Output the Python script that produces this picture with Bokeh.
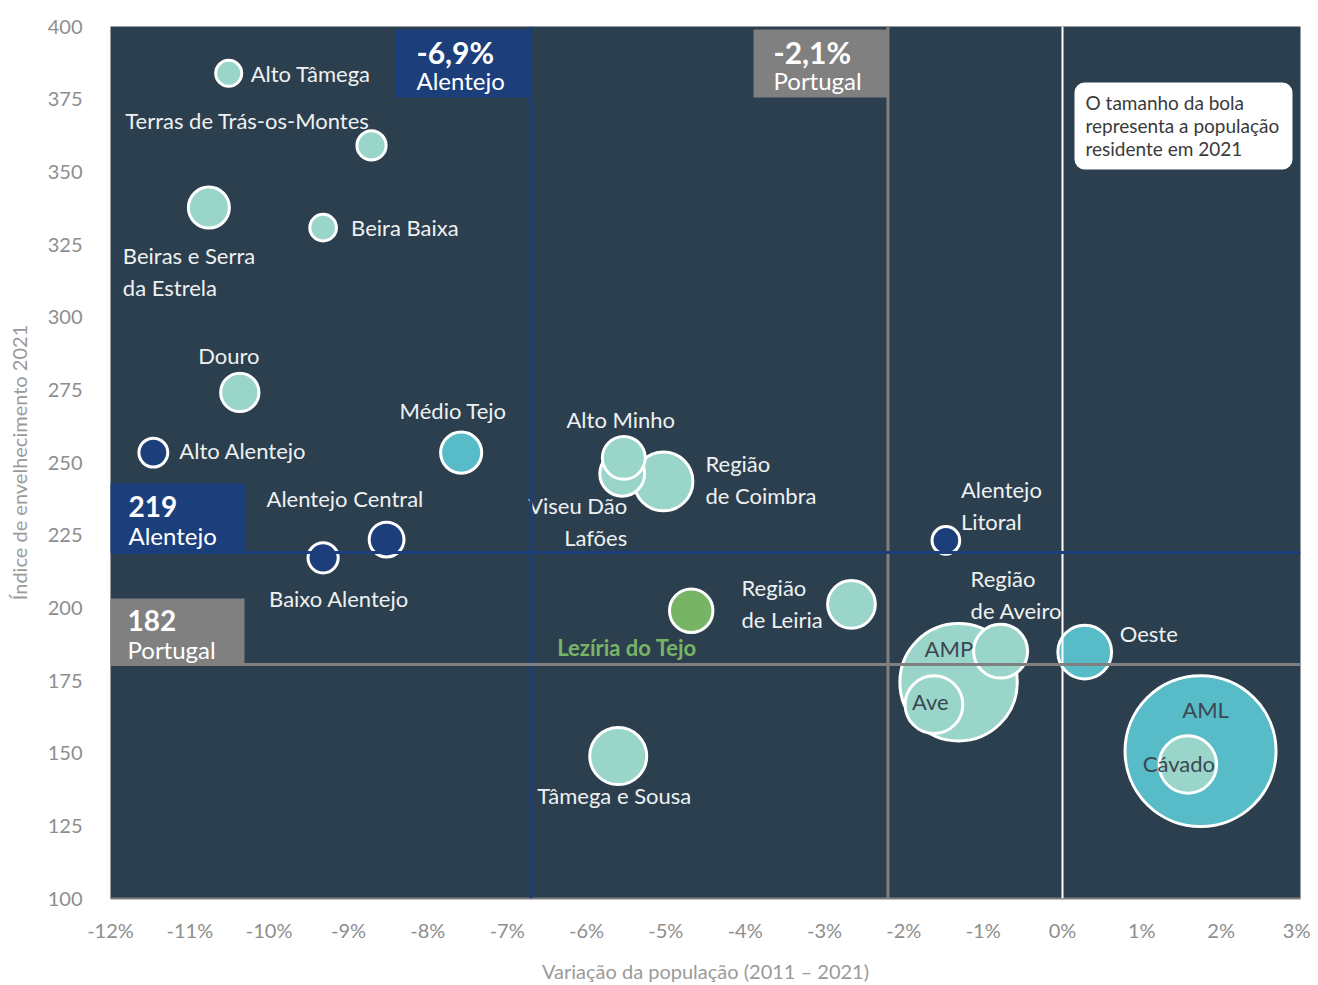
import math
from bokeh.plotting import figure
from bokeh.models import Span, BoxAnnotation, Label, FixedTicker, CustomJSTickFormatter
from bokeh.embed import file_html
from bokeh.resources import INLINE
from bokeh.core.properties import value

# ---------------- data ----------------
regions = ["Alto Tâmega", "Terras de Trás-os-Montes", "Beiras e Serra da Estrela", "Beira Baixa",
           "Douro", "Alto Alentejo", "Médio Tejo", "Alentejo Central", "Baixo Alentejo",
           "Alto Minho", "Viseu Dão Lafões", "Região de Coimbra", "Lezíria do Tejo",
           "Região de Leiria", "Tâmega e Sousa", "Alentejo Litoral", "AMP", "Região de Aveiro",
           "Ave", "Oeste", "AML", "Cávado"]
var_pop = [-10.51, -8.71, -10.76, -9.32, -10.37, -11.46, -7.58, -8.52, -9.32,
           -5.53, -5.55, -5.03, -4.68, -2.66, -5.60, -1.47, -1.31, -0.78,
           -1.62, 0.28, 1.74, 1.58]
ind_env = [383.9, 359.1, 337.7, 330.8, 274.1, 253.4, 253.4, 223.5, 217.2,
           251.6, 246.1, 243.5, 199.0, 201.2, 149.0, 223.2, 174.4, 185.1,
           166.7, 184.8, 150.7, 146.1]
pop_2021 = [85.4, 107.2, 211.8, 89.1, 184.6, 104.9, 213.0, 152.4, 114.9,
            231.5, 253.1, 436.9, 237.5, 286.7, 408.6, 96.4, 1736.2, 367.4,
            418.5, 363.5, 2870.2, 416.6]
group = ["norte_centro", "norte_centro", "norte_centro", "norte_centro", "norte_centro",
         "alentejo", "teal", "alentejo", "alentejo", "norte_centro", "norte_centro",
         "norte_centro", "leziria", "norte_centro", "norte_centro", "alentejo",
         "norte_centro", "norte_centro", "norte_centro", "teal", "teal", "norte_centro"]

x_ticks = list(range(-12, 4))
y_ticks = list(range(100, 401, 25))

# reference values (labels) and where their lines are drawn in the picture
ref_alentejo_var_label, ref_alentejo_var_line = "-6,9%", -6.7
ref_portugal_var_label, ref_portugal_var_line = "-2,1%", -2.2
ref_alentejo_ind_label, ref_alentejo_ind_line = "219", 219.0
ref_portugal_ind_label, ref_portugal_ind_line = "182", 180.5

# ---------------- styles ----------------
BG = "#2c3f4e"
COLORS = {"norte_centro": "#9ad5ca", "teal": "#58bbc8", "alentejo": "#1c3f7c", "leziria": "#77b466"}
NAVY = "#1c3f7c"
GREY = "#808080"
LABEL_WHITE = "#eef1f2"
LABEL_DARK = "#3b4752"
FONT = "Lato"

X0, X1 = -12, 3
Y0, Y1 = 100, 400
FW, FH = 1190, 872
PL, PT = 110, 26  # frame position on page


def px2x(px):
    return X0 + (px - PL) / FW * (X1 - X0)


def px2y(py):
    return Y1 - (py - PT) / FH * (Y1 - Y0)


SX = (X1 - X0) / FW
SY = (Y1 - Y0) / FH

p = figure(frame_width=FW, frame_height=FH, x_range=(X0, X1), y_range=(Y0, Y1),
           output_backend="svg", toolbar_location=None,
           min_border_left=PL, min_border_top=PT, min_border_right=10, min_border_bottom=75)
p.background_fill_color = BG
p.border_fill_color = "white"
p.outline_line_color = None
p.grid.visible = False

# axes
p.xaxis.ticker = FixedTicker(ticks=x_ticks)
p.xaxis.formatter = CustomJSTickFormatter(code="return tick + '%';")
p.yaxis.ticker = FixedTicker(ticks=y_ticks)
for ax in (p.xaxis, p.yaxis):
    ax.major_tick_line_color = None
    ax.minor_tick_line_color = None
    ax.major_label_text_font = FONT
    ax.major_label_text_font_size = "20px"
    ax.major_label_text_color = "#8e8e8e"
    ax.axis_label_text_font = FONT
    ax.axis_label_text_font_size = "20px"
    ax.axis_label_text_color = "#9a9a9a"
    ax.axis_label_text_font_style = "normal"
p.xaxis.axis_line_color = "#7f7f7f"
p.xaxis.axis_line_width = 2
p.yaxis.axis_line_color = None
p.xaxis.axis_label = "Variação da população (2011 – 2021)"
p.yaxis.axis_label = "Índice de envelhecimento 2021"
p.xaxis.major_label_standoff = 13
p.xaxis.axis_label_standoff = 14
p.yaxis.major_label_standoff = 22
p.yaxis.axis_label_standoff = 14

# bubbles, largest first
K = 151 / math.sqrt(max(pop_2021))
order = sorted(range(len(regions)), key=lambda i: -pop_2021[i])
p.scatter(x=[var_pop[i] for i in order], y=[ind_env[i] for i in order],
          size=[K * math.sqrt(pop_2021[i]) for i in order],
          fill_color=[COLORS[group[i]] for i in order],
          line_color="white", line_width=3, marker="circle")

# reference lines
p.add_layout(Span(location=ref_alentejo_var_line, dimension="height", line_color=NAVY, line_width=3))
p.add_layout(Span(location=ref_portugal_var_line, dimension="height", line_color=GREY, line_width=3))
p.add_layout(Span(location=0, dimension="height", line_color="white", line_width=2))
p.add_layout(Span(location=ref_alentejo_ind_line, dimension="width", line_color=NAVY, line_width=3))
p.add_layout(Span(location=ref_portugal_ind_line, dimension="width", line_color=GREY, line_width=3))

# reference boxes
def ref_box(left_px, right_px, top_px, bottom_px, color, big, small, tx_px, ty_px, big_size):
    p.add_layout(BoxAnnotation(left=px2x(left_px), right=px2x(right_px), top=px2y(top_px),
                               bottom=px2y(bottom_px), fill_color=color, fill_alpha=1,
                               line_color=None))
    p.add_layout(Label(x=px2x(tx_px), y=px2y(ty_px), text=big, text_baseline="middle",
                       text_font=FONT, text_font_size=big_size, text_font_style="bold",
                       text_color="white"))
    p.add_layout(Label(x=px2x(tx_px), y=px2y(ty_px + 29), text=small, text_baseline="middle",
                       text_font=FONT, text_font_size="24px", text_color="white"))


ref_box(395, 531, 29, 97, NAVY, ref_alentejo_var_label, "Alentejo", 416, 51, "30px")
ref_box(753, 888, 29, 97, GREY, ref_portugal_var_label, "Portugal", 773, 51, "30px")
ref_box(107, 245, 483, 551, NAVY, ref_alentejo_ind_label, "Alentejo", 128, 506, "28px")
ref_box(107, 244, 598, 664, GREY, ref_portugal_ind_label, "Portugal", 127, 620, "28px")

# note box
p.add_layout(BoxAnnotation(left=px2x(1074), right=px2x(1292), top=px2y(82), bottom=px2y(169),
                           fill_color="white", fill_alpha=1, line_color=None, border_radius=10))
for i, line in enumerate(["O tamanho da bola", "representa a população", "residente em 2021"]):
    p.add_layout(Label(x=px2x(1085), y=px2y(102 + 23 * i), text=line, text_baseline="middle",
                       text_font=FONT, text_font_size="19px", text_color="#3a3a3a"))

# bubble labels: (lines, dx px, dy px (down), align, color, style)
label_spec = {
    "Alto Tâmega": (["Alto Tâmega"], 22, 0, "left", LABEL_WHITE, "normal"),
    "Terras de Trás-os-Montes": (["Terras de Trás-os-Montes"], -2, -25, "right", LABEL_WHITE, "normal"),
    "Beiras e Serra da Estrela": (["Beiras e Serra", "da Estrela"], -86, 48, "left", LABEL_WHITE, "normal"),
    "Beira Baixa": (["Beira Baixa"], 28, 0, "left", LABEL_WHITE, "normal"),
    "Douro": (["Douro"], -11, -37, "center", LABEL_WHITE, "normal"),
    "Alto Alentejo": (["Alto Alentejo"], 26, -2, "left", LABEL_WHITE, "normal"),
    "Médio Tejo": (["Médio Tejo"], -8, -42, "center", LABEL_WHITE, "normal"),
    "Alentejo Central": (["Alentejo Central"], -120, -41, "left", LABEL_WHITE, "normal"),
    "Baixo Alentejo": (["Baixo Alentejo"], -54, 41, "left", LABEL_WHITE, "normal"),
    "Alto Minho": (["Alto Minho"], -3, -38, "center", LABEL_WHITE, "normal"),
    "Viseu Dão Lafões": (["Viseu Dão", "Lafões"], 5, 32, "right", LABEL_WHITE, "normal"),
    "Região de Coimbra": (["Região", "de Coimbra"], 42, -18, "left", LABEL_WHITE, "normal"),
    "Lezíria do Tejo": (["Lezíria do Tejo"], -134, 37, "left", "#77b466", "bold"),
    "Região de Leiria": (["Região", "de Leiria"], -110, -17, "left", LABEL_WHITE, "normal"),
    "Tâmega e Sousa": (["Tâmega e Sousa"], -4, 39, "center", LABEL_WHITE, "normal"),
    "Alentejo Litoral": (["Alentejo", "Litoral"], 15, -51, "left", LABEL_WHITE, "normal"),
    "Região de Aveiro": (["Região", "de Aveiro"], -30, -73, "left", LABEL_WHITE, "normal"),
    "AMP": (["AMP"], -34, -34, "left", LABEL_DARK, "normal"),
    "Ave": (["Ave"], -22, -3, "left", LABEL_DARK, "normal"),
    "Oeste": (["Oeste"], 35, -19, "left", LABEL_WHITE, "normal"),
    "AML": (["AML"], 5, -42, "center", LABEL_DARK, "normal"),
    "Cávado": (["Cávado"], -45, -1, "left", LABEL_DARK, "normal"),
}

for i, name in enumerate(regions):
    lines, dx, dy, align, color, style = label_spec[name]
    for j, line in enumerate(lines):
        p.text(x=[var_pop[i] + dx * SX], y=[ind_env[i] - (dy + 32 * j) * SY], text=[line],
               text_align=align, text_baseline="middle", text_color=color,
               text_font=value(FONT), text_font_size=value("22px"), text_font_style=style)

open("out.html", "w").write(file_html(p, INLINE))
